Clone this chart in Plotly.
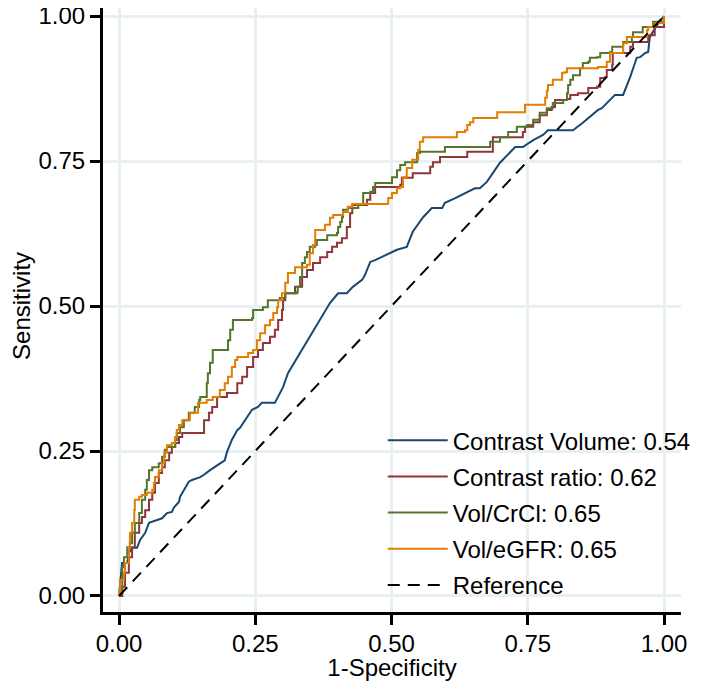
import plotly.graph_objects as go

# ---- Data ----
vol_fpr = [0, 0.0055, 0.015, 0.018, 0.024, 0.033, 0.039, 0.048, 0.055, 0.061, 0.079, 0.088, 0.097, 0.101,
           0.110, 0.112, 0.119, 0.128, 0.134, 0.149, 0.156, 0.167, 0.194, 0.198, 0.207, 0.217, 0.222, 0.231,
           0.244, 0.255, 0.262, 0.286, 0.295, 0.301, 0.310, 0.317, 0.332, 0.350, 0.369, 0.387, 0.402, 0.418,
           0.429, 0.446, 0.451, 0.461, 0.470, 0.510, 0.528, 0.539, 0.558, 0.574, 0.593, 0.598, 0.617, 0.653,
           0.662, 0.675, 0.699, 0.727, 0.741, 0.760, 0.778, 0.787, 0.833, 0.851, 0.879, 0.886, 0.910, 0.925,
           0.938, 0.950, 0.956, 0.965, 0.971, 0.974, 0.987, 1.0]
vol_tpr = [0, 0.057, 0.057, 0.074, 0.083, 0.083, 0.097, 0.109, 0.126, 0.128, 0.134, 0.143, 0.145, 0.153,
           0.162, 0.171, 0.183, 0.197, 0.200, 0.205, 0.209, 0.217, 0.234, 0.248, 0.269, 0.286, 0.290, 0.303,
           0.321, 0.326, 0.333, 0.333, 0.350, 0.360, 0.384, 0.395, 0.419, 0.447, 0.476, 0.505, 0.522, 0.522,
           0.533, 0.545, 0.553, 0.576, 0.579, 0.597, 0.602, 0.628, 0.653, 0.669, 0.669, 0.678, 0.686, 0.703,
           0.703, 0.714, 0.747, 0.774, 0.774, 0.786, 0.795, 0.803, 0.803, 0.816, 0.838, 0.841, 0.864, 0.864,
           0.895, 0.928, 0.929, 0.936, 0.938, 0.964, 0.984, 1.0]

ratio_fpr = [0, 0.006, 0.011, 0.018, 0.024, 0.029, 0.037, 0.042, 0.048, 0.055, 0.061, 0.066, 0.073, 0.079,
             0.084, 0.092, 0.097, 0.103, 0.110, 0.116, 0.152, 0.156, 0.165, 0.171, 0.180, 0.198, 0.217, 0.226,
             0.235, 0.246, 0.255, 0.264, 0.277, 0.286, 0.292, 0.299, 0.301, 0.305, 0.323, 0.336, 0.345, 0.356,
             0.369, 0.382, 0.391, 0.400, 0.409, 0.418, 0.424, 0.428, 0.455, 0.461, 0.470, 0.516, 0.519, 0.539,
             0.567, 0.571, 0.576, 0.589, 0.635, 0.639, 0.666, 0.686, 0.712, 0.741, 0.745, 0.760, 0.772, 0.785,
             0.794, 0.800, 0.822, 0.828, 0.842, 0.861, 0.877, 0.883, 0.892, 0.895, 0.905, 0.906, 0.934, 0.938,
             0.943, 0.969, 0.971, 0.983, 1.0]
ratio_tpr = [0, 0.016, 0.040, 0.067, 0.084, 0.109, 0.126, 0.136, 0.148, 0.166, 0.178, 0.195, 0.212, 0.222,
             0.234, 0.247, 0.257, 0.264, 0.274, 0.281, 0.281, 0.303, 0.316, 0.326, 0.343, 0.350, 0.367, 0.378,
             0.395, 0.412, 0.424, 0.436, 0.447, 0.459, 0.476, 0.493, 0.510, 0.522, 0.533, 0.550, 0.562, 0.574,
             0.584, 0.593, 0.602, 0.609, 0.617, 0.636, 0.660, 0.674, 0.683, 0.695, 0.705, 0.709, 0.721, 0.729,
             0.729, 0.740, 0.748, 0.757, 0.757, 0.766, 0.766, 0.791, 0.791, 0.800, 0.809, 0.817, 0.829, 0.838,
             0.843, 0.855, 0.857, 0.864, 0.867, 0.876, 0.878, 0.893, 0.895, 0.907, 0.916, 0.936, 0.936, 0.947,
             0.955, 0.955, 0.967, 0.981, 1.0]

crcl_fpr = [0, 0.002, 0.006, 0.009, 0.015, 0.020, 0.024, 0.029, 0.037, 0.042, 0.048, 0.051, 0.055, 0.061,
            0.073, 0.079, 0.084, 0.088, 0.101, 0.103, 0.106, 0.112, 0.119, 0.128, 0.134, 0.139, 0.147, 0.149,
            0.158, 0.161, 0.163, 0.167, 0.172, 0.198, 0.200, 0.204, 0.209, 0.244, 0.246, 0.264, 0.273, 0.295,
            0.305, 0.327, 0.328, 0.332, 0.336, 0.341, 0.345, 0.350, 0.360, 0.363, 0.372, 0.382, 0.400, 0.402,
            0.406, 0.409, 0.411, 0.420, 0.437, 0.439, 0.448, 0.461, 0.466, 0.470, 0.497, 0.501, 0.510, 0.516,
            0.525, 0.547, 0.552, 0.594, 0.598, 0.677, 0.681, 0.699, 0.714, 0.730, 0.749, 0.760, 0.772, 0.785,
            0.796, 0.815, 0.822, 0.824, 0.828, 0.833, 0.846, 0.851, 0.861, 0.864, 0.877, 0.883, 0.901, 0.905,
            0.919, 0.925, 0.941, 0.943, 0.960, 0.961, 0.980, 1.0]
crcl_tpr = [0, 0.010, 0.050, 0.067, 0.084, 0.091, 0.109, 0.126, 0.143, 0.166, 0.183, 0.200, 0.217, 0.222,
            0.229, 0.240, 0.252, 0.257, 0.257, 0.269, 0.281, 0.291, 0.303, 0.316, 0.316, 0.326, 0.338, 0.343,
            0.343, 0.367, 0.384, 0.402, 0.424, 0.424, 0.441, 0.459, 0.476, 0.479, 0.493, 0.498, 0.510, 0.514,
            0.522, 0.524, 0.533, 0.550, 0.574, 0.584, 0.593, 0.602, 0.605, 0.614, 0.614, 0.622, 0.626, 0.636,
            0.645, 0.653, 0.666, 0.669, 0.669, 0.674, 0.695, 0.697, 0.705, 0.712, 0.712, 0.722, 0.734, 0.743,
            0.748, 0.764, 0.766, 0.766, 0.774, 0.774, 0.783, 0.791, 0.800, 0.809, 0.812, 0.821, 0.833, 0.841,
            0.850, 0.855, 0.867, 0.881, 0.890, 0.898, 0.910, 0.919, 0.921, 0.928, 0.929, 0.936, 0.938, 0.947,
            0.947, 0.955, 0.964, 0.972, 0.972, 0.981, 0.990, 1.0]

egfr_fpr = [0, 0.000, 0.002, 0.009, 0.011, 0.018, 0.020, 0.024, 0.028, 0.029, 0.037, 0.042, 0.051, 0.061,
            0.064, 0.066, 0.073, 0.079, 0.083, 0.088, 0.097, 0.103, 0.106, 0.110, 0.116, 0.130, 0.145, 0.161,
            0.172, 0.185, 0.194, 0.200, 0.207, 0.213, 0.217, 0.226, 0.237, 0.246, 0.253, 0.259, 0.268, 0.277,
            0.283, 0.290, 0.292, 0.299, 0.305, 0.310, 0.323, 0.345, 0.350, 0.356, 0.360, 0.372, 0.378, 0.387,
            0.393, 0.402, 0.411, 0.420, 0.428, 0.492, 0.494, 0.501, 0.510, 0.516, 0.521, 0.528, 0.538, 0.549,
            0.552, 0.558, 0.617, 0.620, 0.635, 0.639, 0.644, 0.650, 0.690, 0.694, 0.741, 0.745, 0.776, 0.782,
            0.785, 0.787, 0.796, 0.813, 0.818, 0.822, 0.879, 0.895, 0.901, 0.923, 0.925, 0.932, 0.961, 0.969,
            0.971, 0.983, 1.0]
egfr_tpr = [0, 0.005, 0.028, 0.040, 0.057, 0.084, 0.109, 0.126, 0.148, 0.166, 0.171, 0.174, 0.178, 0.183,
            0.195, 0.205, 0.217, 0.229, 0.247, 0.260, 0.264, 0.274, 0.286, 0.295, 0.303, 0.316, 0.333, 0.338,
            0.343, 0.355, 0.367, 0.378, 0.395, 0.407, 0.412, 0.412, 0.419, 0.424, 0.441, 0.453, 0.467, 0.476,
            0.488, 0.498, 0.510, 0.522, 0.540, 0.557, 0.567, 0.571, 0.591, 0.605, 0.631, 0.631, 0.640, 0.652,
            0.657, 0.657, 0.662, 0.671, 0.676, 0.676, 0.686, 0.695, 0.703, 0.705, 0.722, 0.738, 0.752, 0.769,
            0.783, 0.791, 0.791, 0.800, 0.803, 0.812, 0.817, 0.824, 0.824, 0.834, 0.834, 0.847, 0.847, 0.859,
            0.871, 0.881, 0.890, 0.902, 0.903, 0.910, 0.912, 0.921, 0.936, 0.936, 0.953, 0.964, 0.964, 0.976,
            0.981, 0.988, 1.0]

ref_x = [0, 1]
ref_y = [0, 1]

series_names = ["Contrast Volume: 0.54", "Contrast ratio: 0.62", "Vol/CrCl: 0.65", "Vol/eGFR: 0.65", "Reference"]
tick_vals = [0, 0.25, 0.5, 0.75, 1.0]
tick_text = ["0.00", "0.25", "0.50", "0.75", "1.00"]
x_title = "1-Specificity"
y_title = "Sensitivity"

colors = ["#1a476f", "#90353b", "#55752f", "#e37e00", "black"]
FONT = "Liberation Sans, Arial, sans-serif"

fig = go.Figure()
curves = [(vol_fpr, vol_tpr, "linear"), (ratio_fpr, ratio_tpr, "hv"),
          (crcl_fpr, crcl_tpr, "hv"), (egfr_fpr, egfr_tpr, "hv")]
for i, (xs, ys, shp) in enumerate(curves):
    fig.add_trace(go.Scatter(x=xs, y=ys, mode="lines", name=series_names[i], legendgroup=f"g{i}",
                             line=dict(color=colors[i], width=2, shape=shp)))
fig.add_trace(go.Scatter(x=ref_x, y=ref_y, mode="lines", name=series_names[4], legendgroup="g4",
                         line=dict(color="black", width=2, dash="12px,8px")))

axis_common = dict(
    tickvals=tick_vals, ticktext=tick_text, showgrid=True, gridcolor="#e8f0f2", gridwidth=2.5,
    zeroline=False, showline=True, linecolor="black", linewidth=3, ticks="outside",
    ticklen=10, tickwidth=3, tickcolor="black", tickfont=dict(size=24, color="black", family=FONT),
    automargin=False, ticklabeloverflow="allow",
)
fig.update_xaxes(range=[-0.0294, 1.0312], ticklabelstandoff=-2,
                 title=dict(text=x_title, font=dict(size=24, family=FONT, color="black"), standoff=4),
                 **axis_common)
fig.update_yaxes(range=[-0.0276, 1.0138], **axis_common)

fig.add_annotation(text=y_title, xref="paper", yref="y", x=-0.142, y=0.5,
                   xanchor="center", yanchor="middle", textangle=-90, showarrow=False,
                   font=dict(size=24, family=FONT, color="black"))

fig.update_layout(
    width=701, height=673,
    margin=dict(l=95, r=28, t=0, b=69),
    plot_bgcolor="white", paper_bgcolor="white",
    font=dict(family=FONT, size=24, color="black"),
    legend=dict(x=0.484, y=0.321, xanchor="left", yanchor="top", bgcolor="rgba(0,0,0,0)",
                font=dict(size=24, family=FONT, color="black"), tracegroupgap=2, itemwidth=60),
)

fig.write_html("out.html")
